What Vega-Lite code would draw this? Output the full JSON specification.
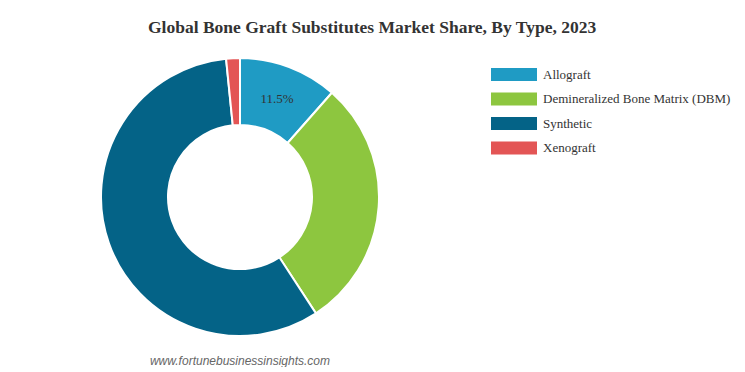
{
  "$schema": "https://vega.github.io/schema/vega-lite/v6.json",
  "padding": {"left": 97, "top": 18, "right": 0, "bottom": 0},
  "background": "white",
  "title": {
    "text": "Global Bone Graft Substitutes Market Share, By Type, 2023",
    "font": "Liberation Serif",
    "fontSize": 17.5,
    "fontWeight": "bold",
    "color": "#333333",
    "anchor": "start",
    "dx": 51,
    "offset": 18
  },
  "config": {"view": {"stroke": null}},
  "vconcat": [
    {
      "width": 278,
      "height": 278,
      "title": {
        "text": "www.fortunebusinessinsights.com",
        "orient": "bottom",
        "font": "Liberation Sans",
        "fontSize": 12,
        "fontStyle": "italic",
        "fontWeight": "normal",
        "color": "#666666",
        "anchor": "middle",
        "offset": 16
      },
      "data": {
        "values": [
          {"Type": "Allograft", "Share": 11.5, "Label": "11.5%"},
          {"Type": "Demineralized Bone Matrix (DBM)", "Share": 29.3, "Label": ""},
          {"Type": "Synthetic", "Share": 57.6, "Label": ""},
          {"Type": "Xenograft", "Share": 1.6, "Label": ""}
        ]
      },
      "encoding": {
        "theta": {"field": "Share", "type": "quantitative", "stack": true},
        "order": {"field": "Type", "sort": "ascending"}
      },
      "layer": [
        {
          "mark": {"type": "arc", "outerRadius": 139, "innerRadius": 72, "stroke": "white", "strokeWidth": 2},
          "encoding": {
            "color": {
              "field": "Type",
              "type": "nominal",
              "scale": {
                "domain": ["Allograft", "Demineralized Bone Matrix (DBM)", "Synthetic", "Xenograft"],
                "range": ["#1f9bc4", "#8dc63f", "#046387", "#e35555"]
              },
              "legend": {
                "title": null,
                "orient": "none",
                "legendX": 401.5,
                "legendY": 5,
                "symbolType": "M-2,-0.56H2V0.56H-2Z",
                "symbolSize": 529,
                "symbolStrokeWidth": 0,
                "symbolOpacity": 1,
                "labelOffset": 17.5,
                "labelFont": "Liberation Serif",
                "labelFontSize": 13,
                "labelColor": "#333333",
                "labelLimit": 300,
                "rowPadding": 5.5
              }
            }
          }
        },
        {
          "mark": {"type": "text", "radius": 105, "font": "Liberation Serif", "fontSize": 13, "color": "#333333"},
          "encoding": {"text": {"field": "Label"}}
        }
      ]
    }
  ]
}
